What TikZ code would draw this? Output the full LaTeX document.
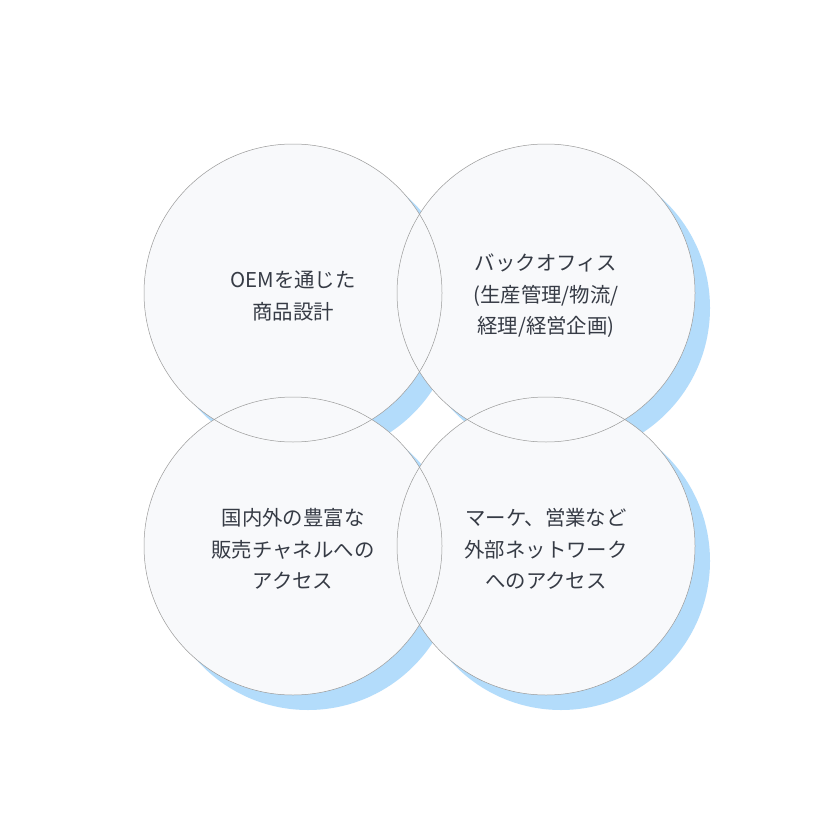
\documentclass[tikz,border=0pt]{standalone}
\usepackage{fontspec}
\setmainfont{Noto Sans CJK JP}
\definecolor{shadowblue}{HTML}{B3DCFB}
\definecolor{circfill}{HTML}{F8F9FB}
\definecolor{circline}{HTML}{9A9A9A}
\definecolor{txt}{HTML}{363B45}
\tikzset{
  bubble/.style={circle, draw=circline, line width=0.5pt, minimum size=298pt, inner sep=0pt},
  bubbletext/.style={align=center, text=txt, inner sep=0pt, yshift=-3pt,
    font=\fontsize{20.4}{31.5}\selectfont},
}
\begin{document}
\begin{tikzpicture}[x=1pt,y=-1pt]
\useasboundingbox (0,0) rectangle (840,840);
\fill[white] (0,0) rectangle (840,840);
% shadows
\foreach \x/\y in {293/293, 546/293, 293/546, 546/546}
  \fill[shadowblue] (\x+15,\y+15) circle (149);
% fills
\foreach \x/\y in {293/293, 546/293, 293/546, 546/546}
  \fill[circfill] (\x,\y) circle (149);
% outlined bubbles
\node[bubble] (c1) at (293,293) {};
\node[bubble] (c2) at (546,293) {};
\node[bubble] (c3) at (293,546) {};
\node[bubble] (c4) at (546,546) {};
% texts
\node[bubbletext] (t1) at (c1.center) {OEMを通じた\\商品設計};
\node[bubbletext] (t2) at (c2.center) {バックオフィス\\(生産管理/物流/\\経理/経営企画)};
\node[bubbletext] (t3) at (c3.center) {国内外の豊富な\\販売チャネルへの\\アクセス};
\node[bubbletext] (t4) at (c4.center) {マーケ、営業など\\外部ネットワーク\\へのアクセス};
\end{tikzpicture}
\end{document}
